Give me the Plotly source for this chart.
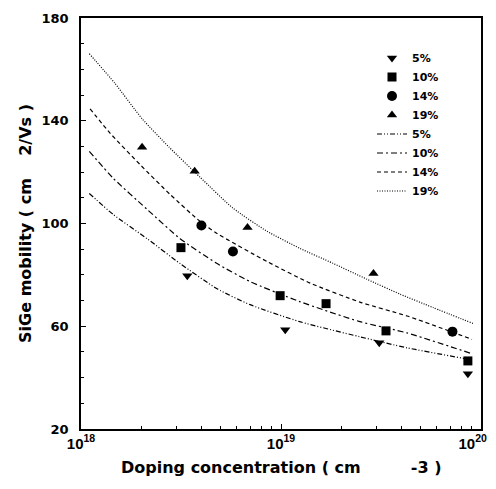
import plotly.graph_objects as go

# ---- measured data (markers) ----
pts5_x = [3.4e18, 1.05e19, 3.1e19, 8.6e19]
pts5_y = [79.7, 58.6, 53.6, 41.5]
pts10_x = [3.16e18, 9.9e18, 1.68e19, 3.35e19, 8.6e19]
pts10_y = [90.6, 71.9, 68.8, 58.2, 46.5]
pts14_x = [4.0e18, 5.75e18, 7.2e19]
pts14_y = [99.2, 89.1, 57.9]
pts19_x = [2.02e18, 3.7e18, 6.8e18, 2.9e19]
pts19_y = [129.7, 120.3, 98.4, 80.5]

# ---- model curves ----
c19_x = [1.10e18, 1.48e18, 2.02e18, 2.75e18, 3.94e18, 5.75e18, 8.51e18, 1.245e19, 1.82e19, 2.69e19, 3.94e19, 5.75e19, 9.12e19]
c19_y = [166.1, 154.5, 140.8, 129.8, 118.0, 106.0, 97.0, 90.3, 84.5, 78.3, 72.5, 67.3, 61.1]
c14_x = [1.11e18, 1.40e18, 1.97e18, 2.79e18, 3.94e18, 4.79e18, 8.51e18, 1.40e19, 2.48e19, 4.27e19, 9.02e19]
c14_y = [144.6, 135.1, 123.0, 111.3, 100.8, 96.1, 85.2, 76.8, 69.4, 64.0, 54.9]
c10_x = [1.10e18, 1.45e18, 2.14e18, 3.13e18, 4.79e18, 7.00e18, 1.24e19, 2.48e19, 4.27e19, 9.02e19]
c10_y = [128.1, 117.6, 105.5, 94.1, 84.4, 77.4, 69.6, 61.8, 57.4, 49.3]
c5_x = [1.10e18, 1.45e18, 2.14e18, 3.13e18, 4.79e18, 7.00e18, 1.24e19, 2.48e19, 4.27e19, 9.02e19]
c5_y = [111.7, 103.5, 94.1, 84.4, 74.6, 68.4, 61.8, 55.9, 51.6, 46.9]

labels = ["5%", "10%", "14%", "19%"]
x_tickvals = [1e18, 1e19, 1e20]
x_ticktext = ["10<sup>18</sup>", "10<sup>19</sup>",
              "10<sup>20</sup>&nbsp;&nbsp;&nbsp;&nbsp;"]
y_tickvals = [20, 60, 100, 140, 180]
x_title = "Doping concentration ( cm&nbsp;&nbsp;&nbsp;&nbsp;&nbsp;&nbsp;&nbsp;&nbsp;&nbsp;-3 )"
y_title = "SiGe mobility ( cm&nbsp;&nbsp;&nbsp;&nbsp;2/Vs )"

FONT = "DejaVu Sans, Arial, sans-serif"
ARIAL = "Liberation Sans, Arial, sans-serif"

fig = go.Figure()

marker_sets = [
    (pts5_x, pts5_y, "triangle-down", 9),
    (pts10_x, pts10_y, "square", 9),
    (pts14_x, pts14_y, "circle", 10),
    (pts19_x, pts19_y, "triangle-up", 9),
]
for (xs, ys, sym, sz), name in zip(marker_sets, labels):
    fig.add_trace(go.Scatter(
        x=xs, y=ys, mode="markers", name=name,
        marker=dict(symbol=sym, size=sz, color="black"),
    ))

line_sets = [
    (c5_x, c5_y, "5px,2px,1px,2px,1px,2px"),
    (c10_x, c10_y, "6px,3px,2px,3px"),
    (c14_x, c14_y, "4px,3px"),
    (c19_x, c19_y, "1px,1.5px"),
]
for (xs, ys, dash), name in zip(line_sets, labels):
    fig.add_trace(go.Scatter(
        x=xs, y=ys, mode="lines", name=name,
        line=dict(color="black", width=1.2, dash=dash, shape="spline", smoothing=0.6),
    ))

# page body has an 8px default margin, so the figure is drawn 8px smaller
fig.update_layout(
    width=488, height=481,
    margin=dict(l=73, r=15, t=10, b=60),
    paper_bgcolor="white", plot_bgcolor="white",
    font=dict(family=FONT, color="black", size=13, weight="bold"),
    showlegend=True,
    legend=dict(
        x=0.7275, y=0.938, xanchor="left", yanchor="top",
        font=dict(size=11, family=FONT, color="black", weight="bold"),
        bgcolor="rgba(0,0,0,0)", tracegroupgap=0,
    ),
    annotations=[dict(
        text=x_title, xref="paper", yref="paper", x=0.5, y=-0.0925,
        xanchor="center", yanchor="middle", showarrow=False,
        font=dict(size=16, family=FONT, color="black", weight="bold"),
    )],
)

fig.update_xaxes(
    type="log", range=[17.9999, 20.0001],
    tickmode="array", tickvals=x_tickvals, ticktext=x_ticktext,
    showline=True, linecolor="black", linewidth=1.5, mirror=True,
    ticks="inside", ticklen=5, tickcolor="black",
    minor=dict(ticks="inside", ticklen=3, tickcolor="black", dtick="D1"),
    showgrid=False, zeroline=False, ticklabeloverflow="allow", automargin=False,
    tickfont=dict(size=15, family=ARIAL, weight="bold"),
)
fig.update_yaxes(
    range=[20, 180], tickmode="array", tickvals=y_tickvals,
    showline=True, linecolor="black", linewidth=1.5, mirror=True,
    ticks="inside", ticklen=5, tickcolor="black",
    minor=dict(ticks="inside", ticklen=3, tickcolor="black", dtick=10, tick0=20),
    showgrid=False, zeroline=False, ticklabelstandoff=8, automargin=False,
    tickfont=dict(size=13, family=FONT, weight="bold"),
    title=dict(text=y_title, font=dict(size=16, family=FONT, weight="bold"), standoff=6),
)

fig.write_html("out.html")
